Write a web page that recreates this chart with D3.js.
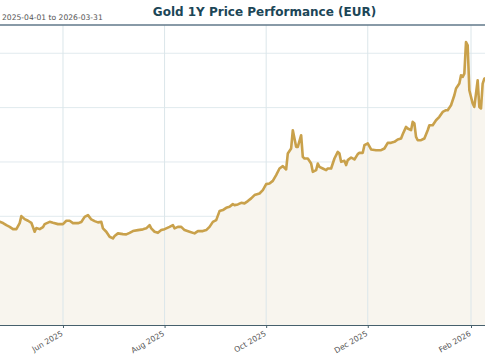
<!DOCTYPE html>
<html><head><meta charset="utf-8">
<script src="https://cdn.jsdelivr.net/npm/d3@7/dist/d3.min.js"></script>
<style>body{margin:0;background:#fff;overflow:hidden}svg{display:block}</style>
</head><body>
<svg id="chart" width="485" height="360"></svg>
<script>
const titleText = "Gold 1Y Price Performance (EUR)";
const subtitleText = "2025-04-01 to 2026-03-31";
const domainDates = ["2025-04-01", "2026-03-31"];
const tickDates = ["2025-06-01","2025-08-01","2025-10-01","2025-12-01","2026-02-01"];
const gridValues = [2500, 3000, 3500, 4000, 4500];
const valueDomain = [2000, 4760];

const dates = [
"2025-04-01","2025-04-02","2025-04-03","2025-04-04","2025-04-07","2025-04-08","2025-04-09","2025-04-10","2025-04-11","2025-04-14","2025-04-16","2025-04-17","2025-04-21","2025-04-22","2025-04-23",
"2025-04-24","2025-04-26","2025-04-28","2025-04-30","2025-05-02","2025-05-04","2025-05-06","2025-05-07","2025-05-09","2025-05-11","2025-05-13","2025-05-15","2025-05-16","2025-05-18","2025-05-20","2025-05-21","2025-05-24","2025-05-26","2025-05-29",
"2025-06-01","2025-06-03","2025-06-05","2025-06-07","2025-06-10","2025-06-12","2025-06-14","2025-06-16","2025-06-18","2025-06-20","2025-06-22","2025-06-24","2025-06-25","2025-06-27","2025-06-29",
"2025-07-01","2025-07-02","2025-07-04","2025-07-07","2025-07-09","2025-07-11","2025-07-13","2025-07-16","2025-07-19","2025-07-21","2025-07-23","2025-07-24","2025-07-26","2025-07-28","2025-07-30",
"2025-08-01","2025-08-04","2025-08-06","2025-08-07","2025-08-09","2025-08-11","2025-08-13","2025-08-16","2025-08-19","2025-08-21","2025-08-24","2025-08-26","2025-08-28","2025-08-30",
"2025-09-01","2025-09-03","2025-09-05","2025-09-07","2025-09-09","2025-09-11","2025-09-12","2025-09-14","2025-09-16","2025-09-18","2025-09-20","2025-09-22","2025-09-24","2025-09-27","2025-09-29",
"2025-10-01","2025-10-03","2025-10-05","2025-10-07","2025-10-09","2025-10-11","2025-10-13","2025-10-14","2025-10-16","2025-10-17","2025-10-19","2025-10-20","2025-10-22","2025-10-23","2025-10-24","2025-10-26","2025-10-28","2025-10-29","2025-10-31",
"2025-11-01","2025-11-02","2025-11-04","2025-11-06","2025-11-07","2025-11-09","2025-11-11","2025-11-13","2025-11-14","2025-11-15","2025-11-17","2025-11-18","2025-11-19","2025-11-21","2025-11-23","2025-11-25","2025-11-26","2025-11-28","2025-11-29",
"2025-12-01","2025-12-03","2025-12-06","2025-12-09","2025-12-11","2025-12-13","2025-12-15","2025-12-17","2025-12-19","2025-12-21","2025-12-22","2025-12-24","2025-12-25","2025-12-27","2025-12-28","2025-12-29","2025-12-30","2025-12-31",
"2026-01-02","2026-01-04","2026-01-06","2026-01-07","2026-01-09","2026-01-11","2026-01-13","2026-01-15","2026-01-17","2026-01-18","2026-01-20","2026-01-21","2026-01-22","2026-01-23","2026-01-25","2026-01-26","2026-01-27","2026-01-28","2026-01-29","2026-01-30","2026-01-31",
"2026-02-02","2026-02-03","2026-02-05","2026-02-06","2026-02-07","2026-02-08","2026-02-09","2026-02-11"
];
const prices = [
2880,2890,2850,2790,2720,2740,2820,2880,2950,2920,3000,2990,3040,3060,2960,
2949,2938,2919,2903,2882,2882,2937,3002,2974,2959,2940,2858,2892,2882,2901,2928,2949,2940,2928,
2928,2959,2959,2937,2937,2947,2995,3011,2971,2956,2944,2949,2889,2858,2812,
2797,2818,2843,2836,2834,2848,2864,2873,2880,2889,2919,2889,2858,2848,2873,
2882,2903,2919,2889,2903,2903,2873,2858,2843,2864,2864,2873,2903,2949,
2965,3048,3057,3078,3087,3112,3103,3109,3124,3119,3140,3165,3195,3210,3241,
3296,3302,3326,3379,3440,3461,3431,3578,3624,3792,3639,3639,3746,3547,3532,3532,3486,3409,3425,
3486,3455,3440,3425,3440,3440,3532,3593,3578,3501,3510,3471,3517,3541,3523,3572,3584,3584,3654,
3670,3615,3608,3608,3624,3676,3676,3685,3707,3716,3755,3823,3808,3792,3869,3854,3731,3700,
3700,3716,3792,3838,3838,3884,3915,3960,3976,3976,4022,4068,4114,4176,4221,4298,4282,4313,4604,4573,4160,
4038,4006,4252,4006,3992,4221,4267,4279
];

const parse = d3.timeParse("%Y-%m-%d");
const data = dates.map((d, i) => ({date: parse(d), value: prices[i]}));

const W = 485, H = 360;
const margin = {top: 25, bottom: 35, left: -38.6};
const plotW = 606.2;
const plotH = H - margin.top - margin.bottom;

const svg = d3.select("#chart");

const x = d3.scaleTime().domain(domainDates.map(parse)).range([margin.left, margin.left + plotW]);
const y = d3.scaleLinear().domain(valueDomain).range([margin.top + plotH, margin.top]);

svg.append("g").selectAll("line").data(gridValues).join("line")
  .attr("x1", margin.left).attr("x2", margin.left + plotW)
  .attr("y1", d => y(d)).attr("y2", d => y(d))
  .attr("stroke", "#e1eaee").attr("stroke-width", 1);

const area = d3.area().x(d => x(d.date)).y0(y(valueDomain[0])).y1(d => y(d.value));
svg.append("path").datum(data).attr("d", area).attr("fill", "#f8f5ee");

const ticks = tickDates.map(parse);
svg.append("g").selectAll("line").data(ticks).join("line")
  .attr("x1", d => x(d)).attr("x2", d => x(d))
  .attr("y1", margin.top).attr("y2", margin.top + plotH)
  .attr("stroke", "#dbe6ea").attr("stroke-width", 1);

const line = d3.line().x(d => x(d.date)).y(d => y(d.value));
svg.append("path").datum(data).attr("d", line)
  .attr("fill", "none").attr("stroke", "#c9a14b").attr("stroke-width", 2.6)
  .attr("stroke-linejoin", "round").attr("stroke-linecap", "round");

svg.append("line").attr("x1", margin.left).attr("x2", margin.left + plotW)
  .attr("y1", margin.top).attr("y2", margin.top)
  .attr("stroke", "#61798a").attr("stroke-width", 1.5);

const xAxis = d3.axisBottom(x).tickValues(ticks).tickFormat(d3.timeFormat("%b %Y")).tickSize(3).tickSizeOuter(0);
const gx = svg.append("g").attr("transform", `translate(0,${margin.top + plotH})`).call(xAxis);
gx.select(".domain").attr("stroke", "#46606c");
gx.selectAll(".tick line").attr("stroke", "#46606c");
gx.selectAll(".tick text")
  .attr("font-family", "DejaVu Sans").attr("font-size", "7.7px").attr("fill", "#555")
  .attr("text-anchor", "end").attr("y", 0).attr("dy", 0)
  .attr("transform", "translate(0,10) rotate(-30)");

svg.append("text").attr("x", margin.left + plotW / 2).attr("y", 16)
  .attr("text-anchor", "middle").attr("font-family", "DejaVu Sans").attr("font-weight", "bold")
  .attr("font-size", "12px").attr("fill", "#1c4657").text(titleText);

svg.append("text").attr("x", 2).attr("y", 20)
  .attr("font-family", "DejaVu Sans").attr("font-size", "7.6px").attr("fill", "#555").text(subtitleText);
</script>
</body></html>
